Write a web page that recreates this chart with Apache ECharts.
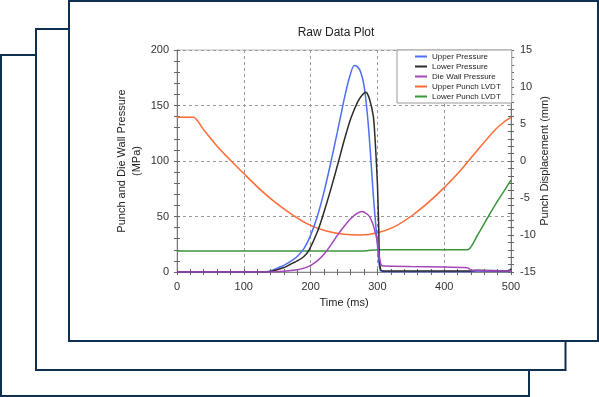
<!DOCTYPE html>
<html>
<head>
<meta charset="utf-8">
<script src="https://cdn.jsdelivr.net/npm/echarts@6/dist/echarts.min.js"></script>
<style>
html,body{margin:0;padding:0;background:#fff;}
#c{width:599px;height:397px;}
</style>
</head>
<body>
<div id="c"></div>
<script>
// ---- data ----
const titleText = 'Raw Data Plot';
const seriesNames = ['Upper Pressure', 'Lower Pressure', 'Die Wall Pressure', 'Upper Punch LVDT', 'Lower Punch LVDT'];

const upperT = [0,130,140,150,160,170,180,190,200,210,220,230,240,250,258,265,270,275,280,285,289,294,299,302,304,306,310,440,450,470,500];
const upperP = [0,0,1,3.5,6,9.5,14,21,33,50,72,98,126,155,175,186,185,180,168,142,112,68,32,10,2,0.8,0.3,0.3,1,0.6,0.5];

const lowerT = [0,130,140,150,160,170,180,190,197,210,218,230,242,250,260,271,278,283,288,294,297,300,302,303,305,308,440,450,490,498,500];
const lowerP = [0,0,0.5,2,4,7,10,14,19,36,50,74,100,118,138,154,160,162,156,140,115,80,40,12,2,1,1,1.5,1,1.5,3];

const dieT = [0,140,160,180,190,200,210,220,230,240,250,260,270,277,285,290,295,300,303,306,310,350,400,430,436,440,500];
const dieP = [0,0,0.6,2,3.5,6,10,16,24,33,41,48,53,54.5,52,48,40,27,13,6,5.5,5,4.5,4,3.5,1.5,1];

const upperLvdtT = [0,25,40,60,80,100,125,150,175,200,225,250,275,300,325,350,375,400,425,450,475,490,500];
const upperLvdt = [5.9,5.9,4.2,2.0,0.1,-1.7,-3.9,-5.8,-7.4,-8.7,-9.5,-9.9,-10.0,-9.7,-8.9,-7.5,-5.7,-3.6,-1.2,1.5,4.1,5.3,5.9];

const lowerLvdtT = [0,280,300,310,435,450,466,480,490,500];
const lowerLvdt = [-12.15,-12.15,-12.0,-12.0,-12.0,-10.0,-7.5,-5.4,-4.0,-2.6];

const xTicks = {min: 0, max: 500, interval: 100};
const leftTicks = {min: 0, max: 200, interval: 50};
const rightTicks = {min: -15, max: 15, interval: 5};

const colors = ['#4d6ef5', '#2b2b2b', '#a445b8', '#ff6a35', '#3b963b'];

function pairs(t, v){ return t.map((x,i)=>[x, v[i]]); }

const chart = echarts.init(document.getElementById('c'), null, {renderer:'canvas'});
const font = 'Liberation Sans, Arial, sans-serif';
const lblColor = '#333';

function mkX(primary){
  return {
    type:'value', min:xTicks.min, max:xTicks.max, interval:xTicks.interval, position:'bottom',
    name: primary ? 'Time (ms)' : '', nameLocation:'middle', nameGap:25,
    nameTextStyle:{fontFamily:font, fontSize:11, color:'#222'},
    axisLine:{show:primary, onZero:false, lineStyle:{color:'#888', width:1}},
    axisTick:{show:true, inside:!primary, length:3, lineStyle:{color:'#666'}},
    minorTick:{show:true, splitNumber:5, length:3, lineStyle:{color:'#666'}},
    axisLabel:{show:primary, margin:9, fontFamily:font, fontSize:11, color:lblColor},
    splitLine:{show:primary, lineStyle:{color:'#999', type:[3,3], width:1}},
    minorSplitLine:{show:false}
  };
}
function mkY(primary, right){
  const tk = right ? rightTicks : leftTicks;
  return {
    type:'value', min:tk.min, max:tk.max, interval:tk.interval, position: right ? 'right':'left',
    name: primary ? (right ? 'Punch Displacement (mm)' : 'Punch and Die Wall Pressure\n(MPa)') : '',
    nameLocation:'middle', nameGap: right ? 26 : 33, nameRotate:90, nameMoveOverlap:false,
    nameTextStyle:{fontFamily:font, fontSize:11, color:'#222', lineHeight:15},
    axisLine:{show:primary, onZero:false, lineStyle:{color:'#777', width:1}},
    axisTick:{show:true, inside:!primary, length:3, lineStyle:{color:'#666'}},
    minorTick:{show:true, splitNumber:5, length:3, lineStyle:{color:'#666'}},
    axisLabel:{show:primary, margin: right ? 9 : 8, fontFamily:font, fontSize:11, color:lblColor},
    splitLine:{show: primary && !right, lineStyle:{color:'#999', type:[3,3], width:1}},
    minorSplitLine:{show:false}
  };
}

const seriesData = [
  {t:upperT, v:upperP, y:0},
  {t:lowerT, v:lowerP, y:0},
  {t:dieT, v:dieP, y:0},
  {t:upperLvdtT, v:upperLvdt, y:1},
  {t:lowerLvdtT, v:lowerLvdt, y:1}
];

const frameStroke = '#0e2f4f';
const option = {
  backgroundColor:'#fff',
  animation:false,
  color: colors,
  graphic:[
    {type:'rect', z:-10, shape:{x:1, y:55, width:528, height:341}, style:{fill:'#fff', stroke:frameStroke, lineWidth:2}},
    {type:'rect', z:-10, shape:{x:36, y:29, width:529.5, height:341}, style:{fill:'#fff', stroke:frameStroke, lineWidth:2}},
    {type:'rect', z:-10, shape:{x:69, y:1, width:529, height:340}, style:{fill:'#fff', stroke:frameStroke, lineWidth:2}}
  ],
  title:{text:titleText, left:331, top:22, textAlign:'center',
    textStyle:{fontFamily:font, fontSize:12, fontWeight:'normal', color:'#222'}},
  legend:{
    data: seriesNames, orient:'vertical', left:397, top:50,
    icon:'rect', itemWidth:12, itemHeight:2, itemGap:1,
    padding:[2,11,2,18], borderColor:'#999', borderWidth:1, backgroundColor:'#fff',
    textStyle:{fontFamily:font, fontSize:8, color:'#222', lineHeight:9}
  },
  grid:{left:177, right:88, top:50, bottom:125, show:true, borderColor:'#bbb', borderWidth:1},
  xAxis:[mkX(true), mkX(false)],
  yAxis:[mkY(true,false), mkY(true,true), mkY(false,false), mkY(false,true)],
  series: seriesData.map((s,i)=>({
    name: seriesNames[i], type:'line', yAxisIndex:s.y, xAxisIndex:0,
    data: pairs(s.t, s.v), showSymbol:false, symbol:'none',
    smooth:0.2,
    lineStyle:{width:1.5, color:colors[i]}, itemStyle:{color:colors[i]},
    z: i>=3 ? 2 : 3
  }))
};
chart.setOption(option);
</script>
</body>
</html>
